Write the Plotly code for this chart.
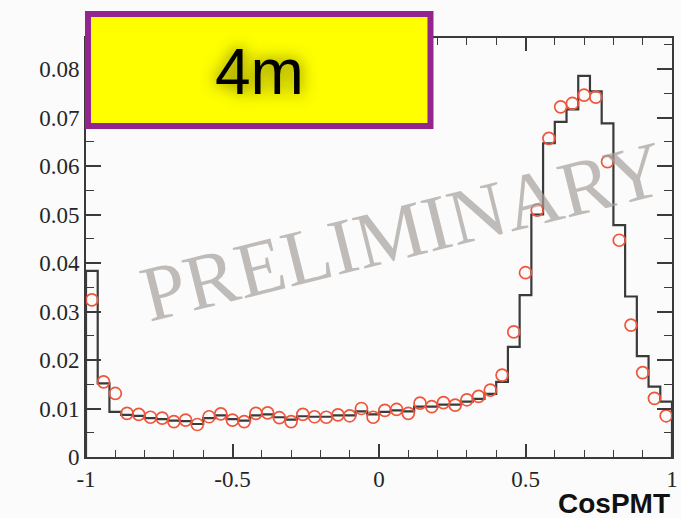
import numpy as np
import plotly.graph_objects as go

# ---- data ----
bin_lo = -1.0
bin_width = 0.04
hist_mc = [0.0384, 0.0152, 0.0093, 0.0087, 0.0085, 0.0080, 0.0078, 0.0075, 0.0074, 0.0068,
           0.0080, 0.0086, 0.0078, 0.0075, 0.0086, 0.0088, 0.0082, 0.0077, 0.0084, 0.0083,
           0.0083, 0.0086, 0.0086, 0.0094, 0.0088, 0.0093, 0.0096, 0.0094, 0.0104, 0.0104,
           0.0108, 0.0108, 0.0114, 0.0120, 0.0130, 0.0155, 0.0227, 0.0334, 0.0500, 0.0647,
           0.0691, 0.0717, 0.0786, 0.0754, 0.0688, 0.0478, 0.0331, 0.0208, 0.0145, 0.0114]
data_pts = [0.0324, 0.0155, 0.0131, 0.0090, 0.0088, 0.0082, 0.0080, 0.0073, 0.0076, 0.0067,
            0.0083, 0.0089, 0.0076, 0.0073, 0.0090, 0.0091, 0.0081, 0.0073, 0.0088, 0.0083,
            0.0082, 0.0087, 0.0085, 0.0100, 0.0082, 0.0096, 0.0098, 0.0090, 0.0111, 0.0104,
            0.0112, 0.0107, 0.0118, 0.0125, 0.0138, 0.0169, 0.0258, 0.0380, 0.0509, 0.0657,
            0.0722, 0.0729, 0.0746, 0.0742, 0.0609, 0.0447, 0.0272, 0.0174, 0.0121, 0.0085]
x_tickvals = [-1, -0.5, 0, 0.5, 1]
x_ticktext = ["-1", "-0.5", "0", "0.5", "1"]
y_tickvals = [0, 0.01, 0.02, 0.03, 0.04, 0.05, 0.06, 0.07, 0.08]
y_ticktext = ["0", "0.01", "0.02", "0.03", "0.04", "0.05", "0.06", "0.07", "0.08"]
box_label = "4m"
watermark = "PRELIMINARY"
x_title = "CosPMT"

nb = len(hist_mc)
left_edges = [round(bin_lo + i * bin_width, 4) for i in range(nb)]
centers = [round(e + bin_width / 2, 4) for e in left_edges]
x_hi = round(bin_lo + nb * bin_width, 4)

step_x = [bin_lo] + left_edges + [x_hi, x_hi]
step_y = [0] + hist_mc + [hist_mc[-1], 0]

fig = go.Figure()
fig.add_trace(go.Scatter(x=step_x, y=step_y, mode="lines", line_shape="hv",
                         line=dict(color="#3a3a3a", width=2.2), hoverinfo="skip",
                         showlegend=False, cliponaxis=False))
fig.add_trace(go.Scatter(x=centers, y=data_pts, mode="markers",
                         marker=dict(symbol="circle-open", size=12,
                                     line=dict(color="#a82c2a", width=1.7)),
                         showlegend=False, cliponaxis=False))

W, H = 681, 518
L, R, T, B = 86, 3, 38, 61
pw, ph = W - L - R, H - T - B

def px(xp):
    return (xp - L) / pw

def py(yp):
    return (H - B - yp) / ph

axis_common = dict(showline=True, linecolor="#3a3a3a", linewidth=2, mirror="allticks",
                   ticks="inside", tickcolor="#3a3a3a", tickwidth=1.6,
                   showgrid=False, zeroline=False, ticklabeloverflow="allow",
                   tickfont=dict(family="Liberation Serif", size=23, color="#262626"))

fig.update_xaxes(range=[-1, 1], tickmode="array", tickvals=x_tickvals, ticktext=x_ticktext,
                 ticklen=13, minor=dict(dtick=0.1, ticklen=7, ticks="inside",
                                        tickcolor="#3a3a3a", tickwidth=1.4),
                 **axis_common)
fig.update_yaxes(range=[0, 0.0864], tickmode="array", tickvals=y_tickvals, ticktext=y_ticktext,
                 ticklen=15, minor=dict(dtick=0.005, ticklen=8, ticks="inside",
                                        tickcolor="#3a3a3a", tickwidth=1.4),
                 **axis_common)

fig.add_shape(type="rect", xref="paper", yref="paper",
              x0=px(88), x1=px(434), y0=py(126), y1=py(14),
              fillcolor="#ffff00", line=dict(color="#93258f", width=6), layer="above")

fig.add_annotation(xref="paper", yref="paper", x=px(261), y=py(72), text=box_label,
                   showarrow=False, xanchor="center", yanchor="middle",
                   font=dict(family="Liberation Sans", size=64, color="#000000",
                             shadow="0px 0px 16px rgba(60,60,0,0.8)"))

fig.add_annotation(xref="paper", yref="paper", x=px(406), y=py(232), text=watermark,
                   showarrow=False, textangle=-14, xanchor="center", yanchor="middle",
                   font=dict(family="Liberation Serif", size=79, color="rgba(165,160,155,0.7)"))

fig.add_annotation(xref="paper", yref="paper", x=1.0, y=py(503), text="<b>" + x_title + "</b>",
                   showarrow=False, xanchor="right", yanchor="middle",
                   font=dict(family="Liberation Sans", size=28, color="#111111"))

fig.update_layout(width=W, height=H, margin=dict(l=L, r=R, t=T, b=B),
                  paper_bgcolor="#fbfbfb", plot_bgcolor="#fbfbfb")

fig.write_html("out.html")
